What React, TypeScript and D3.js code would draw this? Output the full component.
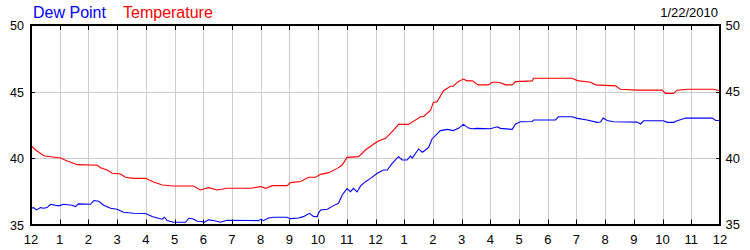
import React from "react";
import * as d3 from "d3";

const tempHours = [0, 0.16, 0.45, 0.68, 1.03, 1.26, 1.43, 1.61, 2.31, 2.42, 2.65, 2.83, 3.12, 3.29, 3.57, 3.99, 4.27, 4.57, 4.96, 5.66, 5.9, 6.18, 6.49, 6.83, 7.65, 8.0, 8.17, 8.4, 8.92, 9.04, 9.39, 9.67, 9.91, 10.09, 10.37, 10.67, 10.84, 11.01, 11.41, 11.65, 11.93, 12.1, 12.35, 12.63, 12.8, 13.15, 13.57, 13.67, 13.92, 14.01, 14.15, 14.37, 14.61, 14.71, 14.88, 15.06, 15.19, 15.37, 15.58, 15.93, 16.06, 16.24, 16.35, 16.53, 16.76, 16.88, 17.46, 17.51, 18.85, 19.03, 19.49, 19.67, 20.36, 20.53, 21.11, 21.98, 22.1, 22.38, 22.51, 22.86, 23.77, 24];
const tempValues = [40.93, 40.6, 40.17, 40.1, 40.0, 39.78, 39.65, 39.5, 39.45, 39.27, 39.1, 38.85, 38.8, 38.55, 38.47, 38.47, 38.2, 37.97, 37.9, 37.9, 37.6, 37.77, 37.6, 37.72, 37.72, 37.85, 37.72, 37.92, 37.92, 38.15, 38.23, 38.55, 38.55, 38.77, 38.9, 39.22, 39.47, 40.05, 40.1, 40.6, 41.03, 41.28, 41.48, 42.1, 42.53, 42.53, 43.1, 43.1, 43.6, 44.16, 44.25, 45.06, 45.4, 45.4, 45.74, 45.94, 45.8, 45.8, 45.5, 45.5, 45.7, 45.7, 45.66, 45.5, 45.5, 45.74, 45.8, 46.0, 46.0, 45.82, 45.7, 45.5, 45.42, 45.17, 45.1, 45.1, 44.86, 44.86, 45.1, 45.17, 45.17, 45.05];

const dewHours = [0, 0.09, 0.19, 0.33, 0.44, 0.56, 0.68, 0.96, 1.13, 1.43, 1.55, 1.65, 2.07, 2.19, 2.36, 2.53, 2.77, 3.0, 3.22, 3.57, 3.99, 4.22, 4.44, 4.57, 4.65, 4.74, 4.96, 5.38, 5.5, 5.66, 5.79, 5.96, 6.02, 6.18, 6.36, 6.6, 6.83, 7.65, 7.92, 8.02, 8.1, 8.27, 8.45, 8.92, 9.04, 9.32, 9.49, 9.7, 9.84, 9.97, 10.01, 10.09, 10.32, 10.54, 10.71, 10.84, 11.01, 11.13, 11.23, 11.36, 11.48, 11.65, 11.83, 12.06, 12.28, 12.41, 12.58, 12.8, 12.93, 13.1, 13.22, 13.28, 13.5, 13.63, 13.74, 13.85, 13.97, 14.26, 14.5, 14.71, 14.89, 15.06, 15.24, 15.37, 15.54, 16.0, 16.24, 16.35, 16.76, 16.88, 17.05, 17.46, 17.51, 18.27, 18.37, 18.85, 19.03, 19.37, 19.72, 19.84, 19.93, 20.07, 20.29, 21.11, 21.23, 21.34, 22.03, 22.16, 22.38, 22.51, 22.8, 23.73, 23.85, 24];
const dewValues = [36.22, 36.27, 36.1, 36.27, 36.22, 36.27, 36.52, 36.4, 36.52, 36.45, 36.35, 36.55, 36.52, 36.8, 36.75, 36.45, 36.22, 36.15, 35.92, 35.85, 35.83, 35.6, 35.47, 35.4, 35.55, 35.3, 35.17, 35.17, 35.47, 35.42, 35.25, 35.22, 35.15, 35.35, 35.3, 35.17, 35.32, 35.3, 35.29, 35.41, 35.29, 35.49, 35.54, 35.54, 35.44, 35.49, 35.59, 35.84, 35.6, 35.59, 35.84, 36.09, 36.15, 36.42, 36.6, 37.22, 37.7, 37.47, 37.72, 37.45, 37.9, 38.22, 38.47, 38.85, 39.1, 39.1, 39.6, 40.1, 39.85, 39.85, 40.15, 40.0, 40.68, 40.43, 40.6, 40.8, 41.43, 42.06, 42.15, 42.06, 42.23, 42.53, 42.25, 42.2, 42.23, 42.2, 42.35, 42.23, 42.15, 42.56, 42.73, 42.75, 42.86, 42.86, 43.1, 43.1, 42.98, 42.86, 42.68, 42.7, 43.0, 42.82, 42.72, 42.7, 42.56, 42.8, 42.8, 42.68, 42.68, 42.8, 43.0, 43.0, 42.82, 42.82];

const hourTicks = d3.range(0, 25);
const hourLabels = ["12", "1", "2", "3", "4", "5", "6", "7", "8", "9", "10", "11", "12", "1", "2", "3", "4", "5", "6", "7", "8", "9", "10", "11", "12"];
const yTicks = [35, 40, 45, 50];
const dateLabel = "1/22/2010";
const seriesNames = ["Dew Point", "Temperature"];

const W = 750;
const H = 250;
const left = 31;
const right = 720;
const top = 25;
const bottom = 224.5;
const font = "Arial, 'Liberation Sans', sans-serif";

export default function App() {
  const x = d3.scaleLinear().domain([0, 24]).range([left, right]);
  const y = d3.scaleLinear().domain([35, 50]).range([bottom, top]);
  const line = d3
    .line<[number, number]>()
    .x((d) => x(d[0]))
    .y((d) => y(d[1]));
  const tempData: [number, number][] = tempHours.map((h, i) => [h, tempValues[i]]);
  const dewData: [number, number][] = dewHours.map((h, i) => [h, dewValues[i]]);
  const px = (v: number) => Math.round(v) + 0.5;

  return (
    <svg
      width={W}
      height={H}
      style={{ position: "absolute", left: 0, top: 0, display: "block", background: "#fff" }}
    >
      <rect x={0} y={0} width={W} height={H} fill="#fff" />
      {hourTicks.slice(1, -1).map((h) => (
        <line key={"gv" + h} x1={px(x(h))} x2={px(x(h))} y1={top} y2={bottom} stroke="#cccccc" strokeWidth={1} />
      ))}
      {yTicks.slice(1, -1).map((v) => (
        <line key={"gh" + v} x1={left} x2={right} y1={px(y(v))} y2={px(y(v))} stroke="#cccccc" strokeWidth={1} />
      ))}
      <path d={line(dewData) || ""} fill="none" stroke="#0000ff" strokeWidth={1.1} />
      <path d={line(tempData) || ""} fill="none" stroke="#ff0000" strokeWidth={1.1} />
      <rect x={left} y={top} width={right - left} height={Math.round(bottom) - top} fill="none" stroke="#000" strokeWidth={2} />
      {hourTicks.slice(1, -1).map((h) => (
        <g key={"t" + h}>
          <line x1={px(x(h))} x2={px(x(h))} y1={bottom} y2={bottom - 5} stroke="#000" />
          <line x1={px(x(h))} x2={px(x(h))} y1={top} y2={top + 5} stroke="#000" />
        </g>
      ))}
      {yTicks.slice(1, -1).map((v) => (
        <g key={"yt" + v}>
          <line x1={left} x2={left + 4} y1={px(y(v))} y2={px(y(v))} stroke="#000" />
          <line x1={right} x2={right - 4} y1={px(y(v))} y2={px(y(v))} stroke="#000" />
        </g>
      ))}
      {hourTicks.map((h, i) => (
        <text key={"xl" + h} x={x(h)} y={243.5} textAnchor="middle" fontFamily={font} fontSize={13} fill="#000">
          {hourLabels[i]}
        </text>
      ))}
      {yTicks.map((v) => (
        <text key={"yl" + v} x={24} y={y(v) + 5} textAnchor="end" fontFamily={font} fontSize={12.5} fill="#000">
          {v}
        </text>
      ))}
      {yTicks.map((v) => (
        <text key={"yr" + v} x={725.5} y={y(v) + 4.5} textAnchor="start" fontFamily={font} fontSize={13} fill="#000">
          {v}
        </text>
      ))}
      <text x={33} y={17.5} fontFamily={font} fontSize={16} fill="#0000ff">
        {seriesNames[0]}
      </text>
      <text x={123} y={17.5} fontFamily={font} fontSize={16} fill="#ff0000">
        {seriesNames[1]}
      </text>
      <text x={718} y={17} textAnchor="end" fontFamily={font} fontSize={13} fill="#000">
        {dateLabel}
      </text>
    </svg>
  );
}
